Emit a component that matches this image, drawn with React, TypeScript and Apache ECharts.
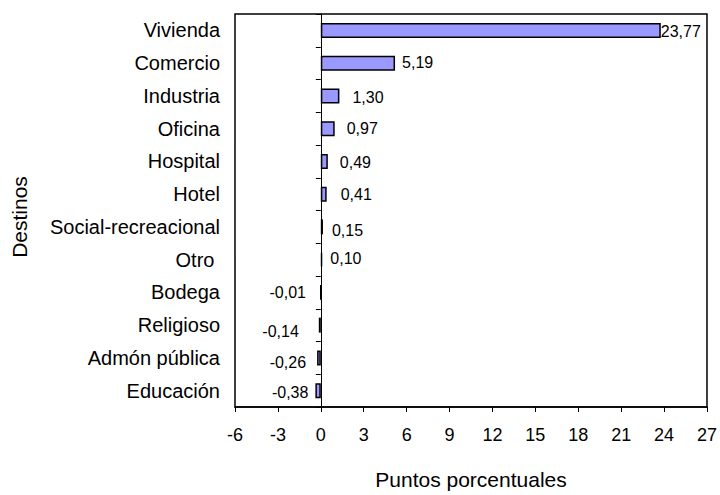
import React, { useEffect, useRef } from "react";
import * as echarts from "echarts";

const categories = [
  "Vivienda",
  "Comercio",
  "Industria",
  "Oficina",
  "Hospital",
  "Hotel",
  "Social-recreacional",
  "Otro ",
  "Bodega",
  "Religioso",
  "Admón pública",
  "Educación",
];
const values = [23.77, 5.19, 1.3, 0.97, 0.49, 0.41, 0.15, 0.1, -0.01, -0.14, -0.26, -0.38];
const xTickMin = -6;
const xTickMax = 27;
const xTickStep = 3;

// label placement tweaks (layout only)
const labelDistances = [0, 7, 13, 12, 12, 14, 9, 8, 14, 20, 11, 7];
const labelOffsetsY = [1, -1, 2, 0, 1, 0, 4, -1, 0, 6, 5, 2];

const FONT = "Liberation Sans, Arial, sans-serif";

export default function App() {
  const ref = useRef<HTMLDivElement>(null);
  useEffect(() => {
    if (!ref.current) return;
    const chart = echarts.init(ref.current, undefined, { renderer: "svg" });
    const fmt = (v: number) => v.toFixed(2).replace(".", ",");
    chart.setOption({
      animation: false,
      backgroundColor: "#ffffff",
      textStyle: { fontFamily: FONT, color: "#000" },
      grid: {
        left: 235,
        top: 14,
        width: 473,
        height: 397,
        show: true,
        borderColor: "#000",
        borderWidth: 1.5,
        backgroundColor: "transparent",
        containLabel: false,
      },
      xAxis: {
        type: "value",
        min: xTickMin,
        max: xTickMax,
        interval: xTickStep,
        axisLine: { show: true, onZero: false, lineStyle: { color: "#000", width: 1.5 } },
        axisTick: { show: true, length: 5, lineStyle: { color: "#000", width: 1 } },
        splitLine: { show: false },
        axisLabel: { fontSize: 18, color: "#000", fontFamily: FONT, margin: 19 },
        name: "Puntos porcentuales",
        nameLocation: "middle",
        nameGap: 62,
        nameTextStyle: { fontSize: 21, color: "#000", fontFamily: FONT },
      },
      yAxis: [
        {
          type: "category",
          data: categories,
          inverse: true,
          position: "left",
          axisLine: { show: false, onZero: false },
          axisTick: { show: false },
          splitLine: { show: false },
          axisLabel: { fontSize: 20, color: "#000", fontFamily: FONT, margin: 15 },
        },
        {
          type: "category",
          data: categories,
          inverse: true,
          position: "left",
          axisLine: { show: true, onZero: true, lineStyle: { color: "#000", width: 1 } },
          axisTick: { show: true, length: 5, lineStyle: { color: "#000", width: 1 } },
          axisLabel: { show: false },
          splitLine: { show: false },
        },
      ],
      graphic: [
        {
          type: "text",
          x: 19,
          y: 217,
          rotation: Math.PI / 2,
          style: {
            text: "Destinos",
            fontSize: 21,
            fontFamily: FONT,
            fill: "#000",
            align: "center",
            verticalAlign: "middle",
          },
        },
      ],
      series: [
        {
          type: "bar",
          xAxisIndex: 0,
          yAxisIndex: 0,
          barWidth: 15,
          data: values.map((v, i) => ({
            value: v,
            label: {
              show: true,
              position: v >= 0 ? "right" : "left",
              distance: labelDistances[i],
              offset: [0, labelOffsetsY[i]],
              formatter: () => fmt(v),
              fontSize: 16,
              fontFamily: FONT,
              color: "#000",
            },
          })),
          itemStyle: { color: "#9999FF", borderColor: "#000", borderWidth: 1.5 },
        },
      ],
    });
    return () => chart.dispose();
  }, []);
  return (
    <div
      ref={ref}
      style={{ position: "fixed", left: 0, top: 0, width: 720, height: 495, background: "#fff" }}
    />
  );
}
